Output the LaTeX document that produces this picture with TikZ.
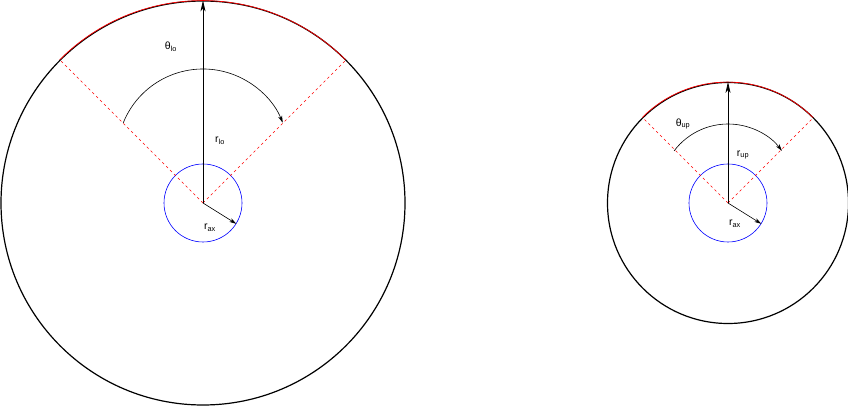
\documentclass[tikz,border=0pt]{standalone}
\usepackage{fontspec}
\setmainfont{Liberation Sans}
\usetikzlibrary{arrows.meta}
\begin{document}
\begin{tikzpicture}[x=1pt,y=1pt,
  outer/.style={circle, draw=black, line width=1.2pt, inner sep=0pt},
  axc/.style={circle, draw=blue, line width=0.6pt, inner sep=0pt},
  sector/.style={draw=red, dash pattern=on 2.5pt off 3pt, line width=0.6pt},
  redarc/.style={draw=red, line width=0.7pt},
  arr/.style={-{Stealth[length=11pt,width=5pt,inset=3pt]}, line width=0.8pt},
  smallarr/.style={-{Stealth[length=7pt,width=4pt,inset=2pt]}, line width=0.6pt},
  lab/.style={font=\fontsize{10.5}{12}\selectfont, inner sep=0pt}]
\useasboundingbox (0,0) rectangle (848,407);
% ---------- left (lo) ----------
\coordinate (C1) at (203,204);
\node[outer, minimum size=404pt] (out1) at (C1) {};
\node[axc, minimum size=78pt] (ax1) at (C1) {};
\draw[sector] (C1) -- (out1.135);
\draw[sector] (C1) -- (out1.45);
\draw[redarc] (out1.135) arc[start angle=135, end angle=45, radius=202];
\draw[arr] (C1) -- (out1.north);
\draw[smallarr] (C1) -- (ax1.-32);
\coordinate (th1c) at (203,252);
\draw[smallarr] ([shift={(158:86)}]th1c) arc[start angle=158, end angle=22, radius=86];
\node[lab] (tlo) at (171,360) {θ\textsubscript{lo}};
\node[lab] (rlo) at (220,266) {r\textsubscript{lo}};
\node[lab] (rax1) at (210,179) {r\textsubscript{ax}};
% ---------- right (up) ----------
\coordinate (C2) at (728,204);
\node[outer, minimum size=241pt] (out2) at (C2) {};
\node[axc, minimum size=78pt] (ax2) at (C2) {};
\draw[sector] (C2) -- (out2.135);
\draw[sector] (C2) -- (out2.45);
\draw[redarc] (out2.135) arc[start angle=135, end angle=45, radius=120.5];
\draw[arr] (C2) -- (out2.north);
\draw[smallarr] (C2) -- (ax2.-32);
\coordinate (th2c) at (728,215.5);
\draw[smallarr] ([shift={(143:67.5)}]th2c) arc[start angle=143, end angle=37, radius=67.5];
\node[lab] (tup) at (683,283) {θ\textsubscript{up}};
\node[lab] (rup) at (743,252) {r\textsubscript{up}};
\node[lab] (rax2) at (735,183) {r\textsubscript{ax}};
\end{tikzpicture}
\end{document}
